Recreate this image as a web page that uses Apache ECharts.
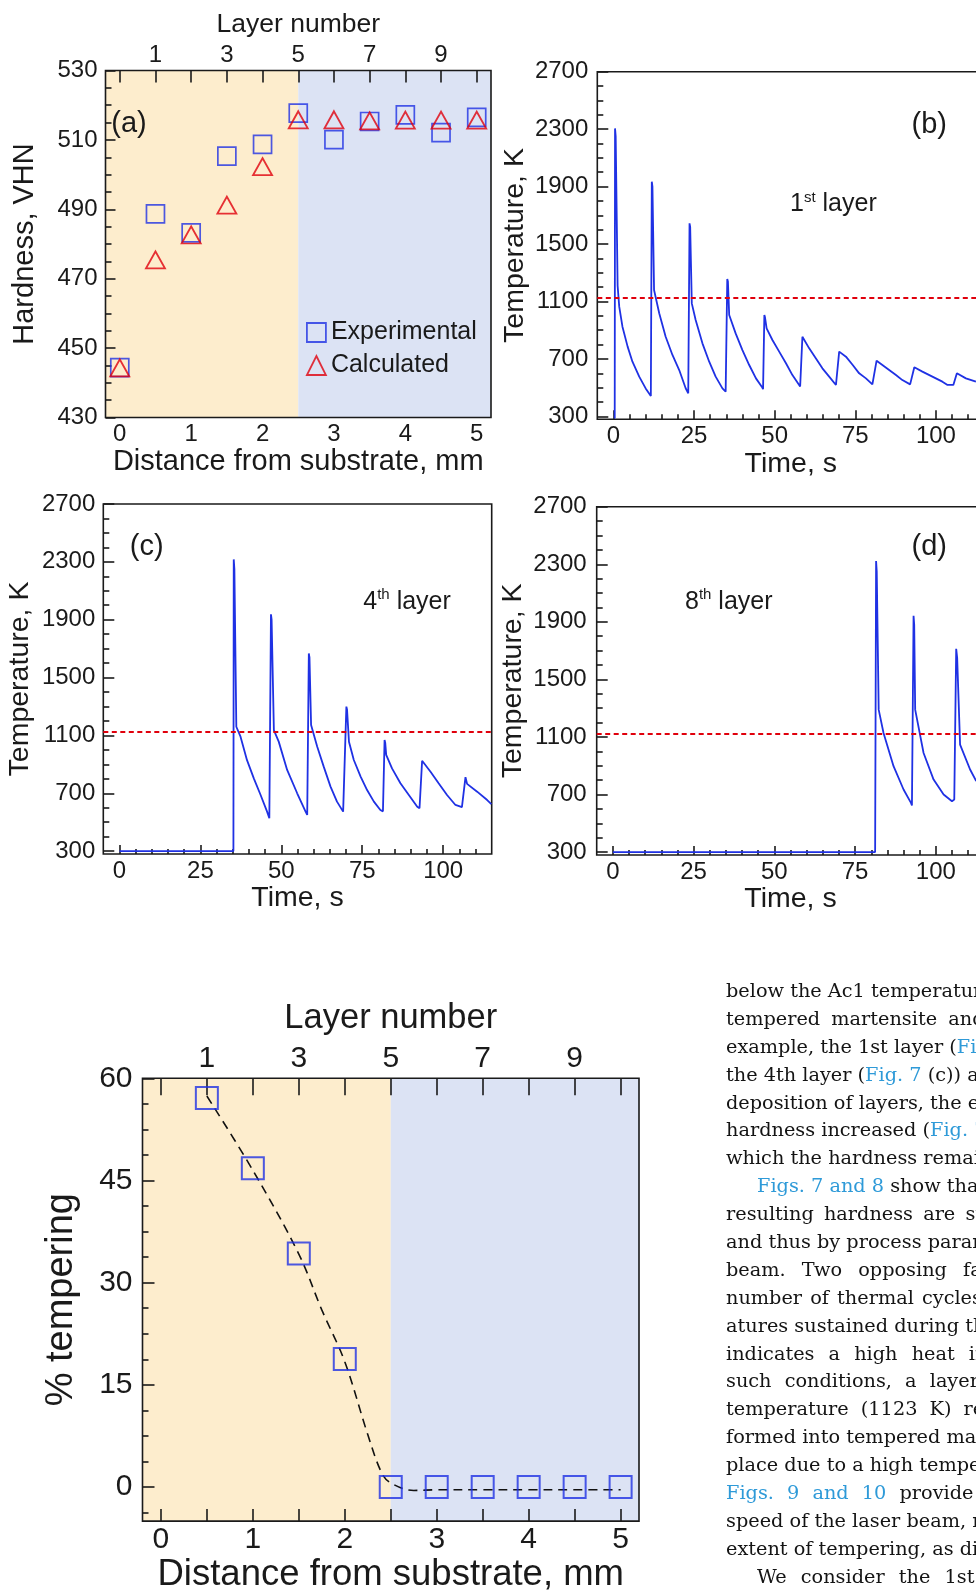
<!DOCTYPE html>
<html lang="en">
<head>
<meta charset="UTF-8">
<title>Hardness, thermal cycles and tempering</title>
<script src="https://cdn.jsdelivr.net/npm/echarts@6/dist/echarts.min.js"></script>
<style>
    html, body { margin: 0; padding: 0; background: #fff; }
    body { width: 976px; height: 1594px; overflow: hidden; position: relative; }
    .chart { position: absolute; left: 0; top: 0; width: 1100px; height: 1594px; }
    #text { position: absolute; left: 726px; top: 977px; font-family: "DejaVu Serif", serif; font-size: 19.3px;
            line-height: 27.9px; color: #141414; white-space: nowrap; }
    #text div { height: 27.9px; }
    #text .ind { padding-left: 31px; }
    #text span { color: #2e9ad8; }
</style>
</head>
<body>
<div id="ca" class="chart"></div>
<div id="cb" class="chart"></div>
<div id="cc" class="chart"></div>
<div id="cd" class="chart"></div>
<div id="ce" class="chart"></div>

<div id="text">
    <div>below the Ac1 temperature</div>
    <div style="word-spacing:5px">tempered martensite and</div>
    <div>example, the 1st layer (<span>Fig. 7</span></div>
    <div>the 4th layer (<span>Fig. 7</span> (c)) and</div>
    <div>deposition of layers, the ex</div>
    <div>hardness increased (<span>Fig. 7</span> (</div>
    <div>which the hardness remain</div>
    <div class="ind"><span>Figs. 7 and 8</span> show that</div>
    <div style="word-spacing:4px">resulting hardness are stro</div>
    <div>and thus by process parame</div>
    <div style="word-spacing:10px">beam. Two opposing fact</div>
    <div style="word-spacing:2px">number of thermal cycles</div>
    <div>atures sustained during the</div>
    <div style="word-spacing:8px">indicates a high heat inpu</div>
    <div style="word-spacing:7px">such conditions, a layer e</div>
    <div style="word-spacing:6px">temperature (1123 K) resu</div>
    <div>formed into tempered mart</div>
    <div>place due to a high tempera</div>
    <div style="word-spacing:7px"><span>Figs. 9 and 10</span> provide ex</div>
    <div>speed of the laser beam, res</div>
    <div>extent of tempering, as dis</div>
    <div class="ind" style="word-spacing:8px">We consider the 1st a</div>
</div>

<script>
    var FONT = '"Liberation Sans", Arial, sans-serif'
    var INK = '#1a1a1a'
    var BLUE = '#1f31e4'
    var RED = '#e0000c'
    var ORANGE_BG = '#fdedcd'
    var BLUE_BG = '#dce3f4'

    // (a) hardness vs distance from substrate
    var distance = [0, 0.5, 1, 1.5, 2, 2.5, 3, 3.5, 4, 4.5, 5]
    var hardnessExp = [444.4, 488.7, 483.2, 505.3, 508.7, 517.7, 510.1, 515.3, 517.2, 512.1, 516.5]
    var hardnessCalc = [444.3, 475.4, 482.6, 491.2, 502.3, 515.8, 515.8, 515.5, 515.7, 515.7, 515.7]
    var hardnessTicks = [430, 450, 470, 490, 510, 530]
    var hardnessMinor = [435, 440, 445, 455, 460, 465, 475, 480, 485, 495, 500, 505, 515, 520, 525]

    // shared distance / layer axes for (a) and (e)
    var distanceTicks = [0, 1, 2, 3, 4, 5]
    var halfMmTicks = [0, 0.5, 1, 1.5, 2, 2.5, 3, 3.5, 4, 4.5, 5]
    var layerLabelPos = [0.5, 1.5, 2.5, 3.5, 4.5]
    var layerLabels = ['1', '3', '5', '7', '9']
    var zoneEdges = [-0.2, 2.5, 5.2]

    // (e) % tempering
    var layerDistance = [0.5, 1, 1.5, 2, 2.5, 3, 3.5, 4, 4.5, 5]
    var tempering = [57.1, 46.8, 34.3, 18.8, 0, 0, 0, 0, 0, 0]
    var fitDistance = [0.5, 1, 1.5, 1.75, 2, 2.25, 2.4, 2.5, 2.75, 3, 3.5, 4, 4.5, 5]
    var fitTempering = [57.4, 46.5, 34.2, 26.0, 18.4, 7.7, 2.1, 0.6, -0.5, -0.4, -0.4, -0.4, -0.4, -0.4]
    var temperingTicks = [0, 15, 30, 45, 60]
    var temperingMinor = [-3.75, 3.75, 7.5, 11.25, 18.75, 22.5, 26.25, 33.75, 37.5, 41.25, 48.75, 52.5, 56.25]

    // (b)-(d) thermal cycles
    var timeTicks = [0, 25, 50, 75, 100]
    var timeMinor = [5, 10, 15, 20, 30, 35, 40, 45, 55, 60, 65, 70, 80, 85, 90, 95, 105, 110]
    var tempTicks = [300, 700, 1100, 1500, 1900, 2300, 2700]
    var tempMinor = [400, 500, 600, 800, 900, 1000, 1200, 1300, 1400, 1600, 1700, 1800, 2000, 2100, 2200, 2400, 2500, 2600]
    var ac1Temp = 1123

    var layer1Time = [0.4, 0.5, 0.7, 1.3, 1.8, 2.8, 4.4, 5.9, 8.0, 10.0, 11.6,
        11.9, 12.1, 12.6, 14.2, 16.2, 18.3, 20.4, 22.4, 23.2,
        23.6, 23.8, 24.3, 25.5, 27.6, 29.7, 31.7, 33.8, 34.8,
        35.3, 35.5, 35.9, 37.9, 40.0, 42.1, 44.2, 46.0, 46.4,
        46.8, 47.0, 47.5, 49.3, 51.4, 53.5, 55.5, 57.9,
        58.6, 60.7, 62.8, 64.8, 66.9, 69.0, 69.3,
        70.0, 72.1, 74.2, 76.2, 78.3, 80.3, 80.9,
        81.6, 83.4, 85.5, 87.6, 89.6, 92.0, 92.4,
        93.3, 95.8, 98.9, 102.0, 103.6, 105.4,
        106.5, 109.3, 112.4]
    var layer1Temp = [285, 2305, 2250, 1210, 1064, 925, 786, 681, 577, 495, 442,
        1934, 1900, 1180, 1018, 855, 728, 623, 496, 461,
        1644, 1620, 1087, 971, 809, 681, 577, 495, 472,
        1257, 1240, 1006, 878, 762, 658, 565, 507, 490,
        1006, 990, 913, 832, 751, 670, 588, 508,
        855, 774, 704, 635, 577, 519, 512,
        751, 716, 658, 600, 565, 523, 512,
        688, 658, 623, 588, 553, 523, 515,
        642, 612, 577, 542, 519, 519,
        600, 565, 542]

    var layer4Time = [0, 35.2, 35.3, 35.5, 36.1, 37.4, 39.4, 41.5, 43.6, 45.6, 46.3,
        46.8, 47.0, 47.7, 49.2, 51.8, 54.9, 57.5, 58.0,
        58.5, 58.7, 59.2, 61.1, 63.1, 65.2, 67.2, 69.1, 69.6,
        70.1, 70.3, 70.9, 72.4, 74.5, 76.5, 78.6, 80.6, 81.4,
        81.9, 82.1, 82.4, 84.2, 86.8, 89.4, 92.0, 92.7,
        93.5, 96.1, 98.6, 101.2, 103.8, 105.8,
        106.9, 107.4, 110.5, 113.6, 114.9]
    var layer4Temp = [300, 300, 2317, 2250, 1160, 1091, 929, 803, 688, 573, 527,
        1937, 1900, 1137, 1057, 861, 700, 573, 550,
        1667, 1640, 1172, 1022, 884, 746, 642, 573, 560,
        1299, 1280, 1056, 930, 815, 722, 642, 584, 575,
        1068, 1050, 965, 872, 769, 688, 607, 596,
        925, 849, 769, 688, 619, 604,
        811, 765, 711, 653, 625]

    var layer8Time = [0, 81.2, 81.5, 81.7, 82.3, 83.8, 86.9, 90.0, 92.3, 92.6,
        93.1, 93.3, 93.6, 96.2, 99.3, 102.4, 105.0, 105.7,
        106.3, 106.6, 107.5, 110.6, 112.5]
    var layer8Temp = [300, 300, 2323, 2250, 1290, 1128, 897, 735, 642, 624,
        1942, 1880, 1290, 989, 804, 700, 654, 665,
        1713, 1650, 1047, 874, 793]

    function zip(xs, ys) {
        return xs.map(function (x, i) { return [x, ys[i]] })
    }
    function plain(v) { return String(v) }
    function layerName(v) {
        var i = layerLabelPos.indexOf(Number(v))
        return i < 0 ? '' : layerLabels[i]
    }

    // axis that shows only what is switched on
    function ax(o) {
        var a = {
            type: 'value',
            splitLine: {show: false},
            axisLine: {show: false, onZero: false},
            axisTick: {show: false},
            axisLabel: {show: false}
        }
        for (var k in o) a[k] = o[k]
        return a
    }
    function ticks(vals, len) {
        return {show: true, inside: true, length: len, customValues: vals, lineStyle: {color: INK, width: 1.6}}
    }
    function labels(vals, size, margin, fmt) {
        return {show: true, customValues: vals, fontSize: size, color: INK, fontFamily: FONT, margin: margin,
            formatter: fmt || plain}
    }
    function nameStyle(size) {
        return {fontSize: size, color: INK, fontFamily: FONT}
    }
    function gridBox(l, t, w, h) {
        return {left: l, top: t, width: w, height: h, show: true, borderColor: INK, borderWidth: 1.6,
            backgroundColor: 'transparent'}
    }
    function zones() {
        return {
            type: 'line', data: [], silent: true,
            markArea: {
                z: -1, silent: true, label: {show: false},
                data: [
                    [{xAxis: zoneEdges[0], itemStyle: {color: ORANGE_BG}}, {xAxis: zoneEdges[1]}],
                    [{xAxis: zoneEdges[1], itemStyle: {color: BLUE_BG}}, {xAxis: zoneEdges[2]}]
                ]
            }
        }
    }
    function tagText(text, x, y) {
        return {type: 'text', x: x, y: y, style: {text: text, fontSize: 29, fontFamily: FONT, fill: INK,
            align: 'center', verticalAlign: 'middle'}}
    }
    function layerText(num, sup, x, y) {
        return {type: 'text', x: x, y: y, style: {
            text: '{n|' + num + '}{s|' + sup + '}{n| layer}', align: 'left', verticalAlign: 'middle',
            fontFamily: FONT, fill: INK,
            rich: {
                n: {fontSize: 25, lineHeight: 28, fontFamily: FONT, fill: INK},
                s: {fontSize: 15, lineHeight: 20, verticalAlign: 'top', fontFamily: FONT, fill: INK}
            }
        }}
    }

    // (a)
    var optA = {
        animation: false,
        grid: gridBox(105.5, 70.5, 385.5, 347),
        legend: {
            left: 306, top: 320, padding: 0, orient: 'vertical', itemWidth: 19, itemHeight: 19, itemGap: 8,
            selectedMode: false,
            textStyle: {fontSize: 25, lineHeight: 25, color: INK, fontFamily: FONT},
            data: [
                {name: 'Experimental', icon: 'rect',
                    itemStyle: {color: 'rgba(0,0,0,0)', borderColor: BLUE, borderWidth: 1.8}},
                {name: 'Calculated', icon: 'triangle',
                    itemStyle: {color: 'rgba(0,0,0,0)', borderColor: RED, borderWidth: 1.8}}
            ]
        },
        xAxis: [
            ax({min: -0.2, max: 5.2, position: 'bottom', axisLabel: labels(distanceTicks, 24, 5),
                name: 'Distance from substrate, mm', nameLocation: 'middle', nameGap: 28, nameTextStyle: nameStyle(29)}),
            ax({min: -0.2, max: 5.2, position: 'top', axisTick: ticks(halfMmTicks, 12),
                axisLabel: labels(layerLabelPos, 24, 3, layerName),
                name: 'Layer number', nameLocation: 'middle', nameGap: 32, nameTextStyle: nameStyle(26.5)})
        ],
        yAxis: [
            ax({min: 430, max: 530, position: 'left', axisTick: ticks(hardnessTicks, 10),
                axisLabel: labels(hardnessTicks, 24, 8),
                name: 'Hardness, VHN', nameLocation: 'middle', nameGap: 66, nameTextStyle: nameStyle(29)}),
            ax({min: 430, max: 530, position: 'left', axisTick: ticks(hardnessMinor, 6)})
        ],
        graphic: [tagText('(a)', 129, 124)],
        series: [
            zones(),
            {type: 'scatter', name: 'Experimental', data: zip(distance, hardnessExp), symbol: 'rect', symbolSize: 18,
                itemStyle: {color: 'rgba(0,0,0,0)', borderColor: BLUE, borderWidth: 1.7}, z: 3},
            {type: 'scatter', name: 'Calculated', data: zip(distance, hardnessCalc), symbol: 'triangle',
                symbolSize: [19, 17], itemStyle: {color: 'rgba(0,0,0,0)', borderColor: RED, borderWidth: 1.8}, z: 4}
        ]
    }

    // (b)-(d)
    function tempOption(p) {
        return {
            animation: false,
            grid: gridBox(p.left, p.top, p.width, p.height),
            xAxis: [
                ax({min: -5, max: 115, position: 'bottom', axisTick: ticks(timeTicks, 9),
                    axisLabel: labels(timeTicks, 24, 5),
                    name: 'Time, s', nameLocation: 'middle', nameGap: p.xGap, nameTextStyle: nameStyle(28.5)}),
                ax({min: -5, max: 115, position: 'bottom', axisTick: ticks(timeMinor, 5)})
            ],
            yAxis: [
                ax({min: 280, max: 2700, position: 'left', axisTick: ticks(tempTicks, 11),
                    axisLabel: labels(tempTicks, 24, p.yMargin),
                    name: 'Temperature, K', nameLocation: 'middle', nameGap: p.yGap, nameTextStyle: nameStyle(28.5)}),
                ax({min: 280, max: 2700, position: 'left', axisTick: ticks(tempMinor, 6)})
            ],
            graphic: [tagText(p.tag, p.tagX, p.tagY), layerText(p.num, p.sup, p.layerX, p.layerY)],
            series: [{
                type: 'line', data: zip(p.time, p.temp), symbol: 'none', clip: true,
                lineStyle: {color: BLUE, width: 1.8},
                markLine: {
                    silent: true, symbol: 'none', label: {show: false},
                    lineStyle: {color: RED, width: 2, type: [5, 3.5]},
                    data: [{yAxis: ac1Temp}]
                }
            }]
        }
    }

    var optB = tempOption({left: 597.3, top: 71.7, width: 387, height: 347.6, xGap: 30, yGap: 68, yMargin: 9,
        tag: '(b)', tagX: 929.3, tagY: 125, num: '1', sup: 'st', layerX: 790, layerY: 204,
        time: layer1Time, temp: layer1Temp})
    var optC = tempOption({left: 103.3, top: 504, width: 388.4, height: 350, xGap: 27, yGap: 68.6, yMargin: 8,
        tag: '(c)', tagX: 146.7, tagY: 547, num: '4', sup: 'th', layerX: 363.3, layerY: 601.7,
        time: layer4Time, temp: layer4Temp})
    var optD = tempOption({left: 596.7, top: 506.7, width: 387.6, height: 348.3, xGap: 27.7, yGap: 69.4, yMargin: 10,
        tag: '(d)', tagX: 929.3, tagY: 547, num: '8', sup: 'th', layerX: 685, layerY: 601.7,
        time: layer8Time, temp: layer8Temp})

    // (e)
    var optE = {
        animation: false,
        grid: gridBox(142.5, 1078.3, 496.5, 446),
        xAxis: [
            ax({min: -0.2, max: 5.2, position: 'bottom', axisTick: ticks(halfMmTicks, 12),
                axisLabel: labels(distanceTicks, 30, 4),
                name: 'Distance from substrate, mm', nameLocation: 'middle', nameGap: 34, nameTextStyle: nameStyle(36.5)}),
            ax({min: -0.2, max: 5.2, position: 'top', axisTick: ticks(halfMmTicks, 17),
                axisLabel: labels(layerLabelPos, 30, 5, layerName),
                name: 'Layer number', nameLocation: 'middle', nameGap: 42, nameTextStyle: nameStyle(34.5)})
        ],
        yAxis: [
            ax({min: -5, max: 60, position: 'left', axisTick: ticks(temperingTicks, 12),
                axisLabel: labels(temperingTicks, 30, 10),
                name: '% tempering', nameLocation: 'middle', nameGap: 62, nameTextStyle: nameStyle(38)}),
            ax({min: -5, max: 60, position: 'left', axisTick: ticks(temperingMinor, 6)})
        ],
        series: [
            zones(),
            {type: 'line', data: zip(fitDistance, fitTempering), symbol: 'none', smooth: 0.35,
                lineStyle: {color: '#111', width: 1.6, type: [9, 6]}, z: 3},
            {type: 'scatter', data: zip(layerDistance, tempering), symbol: 'rect', symbolSize: 22,
                itemStyle: {color: 'rgba(0,0,0,0)', borderColor: BLUE, borderWidth: 2}, z: 4}
        ]
    }

    echarts.init(document.getElementById('ca')).setOption(optA)
    echarts.init(document.getElementById('cb')).setOption(optB)
    echarts.init(document.getElementById('cc')).setOption(optC)
    echarts.init(document.getElementById('cd')).setOption(optD)
    echarts.init(document.getElementById('ce')).setOption(optE)
</script>
</body>
</html>
